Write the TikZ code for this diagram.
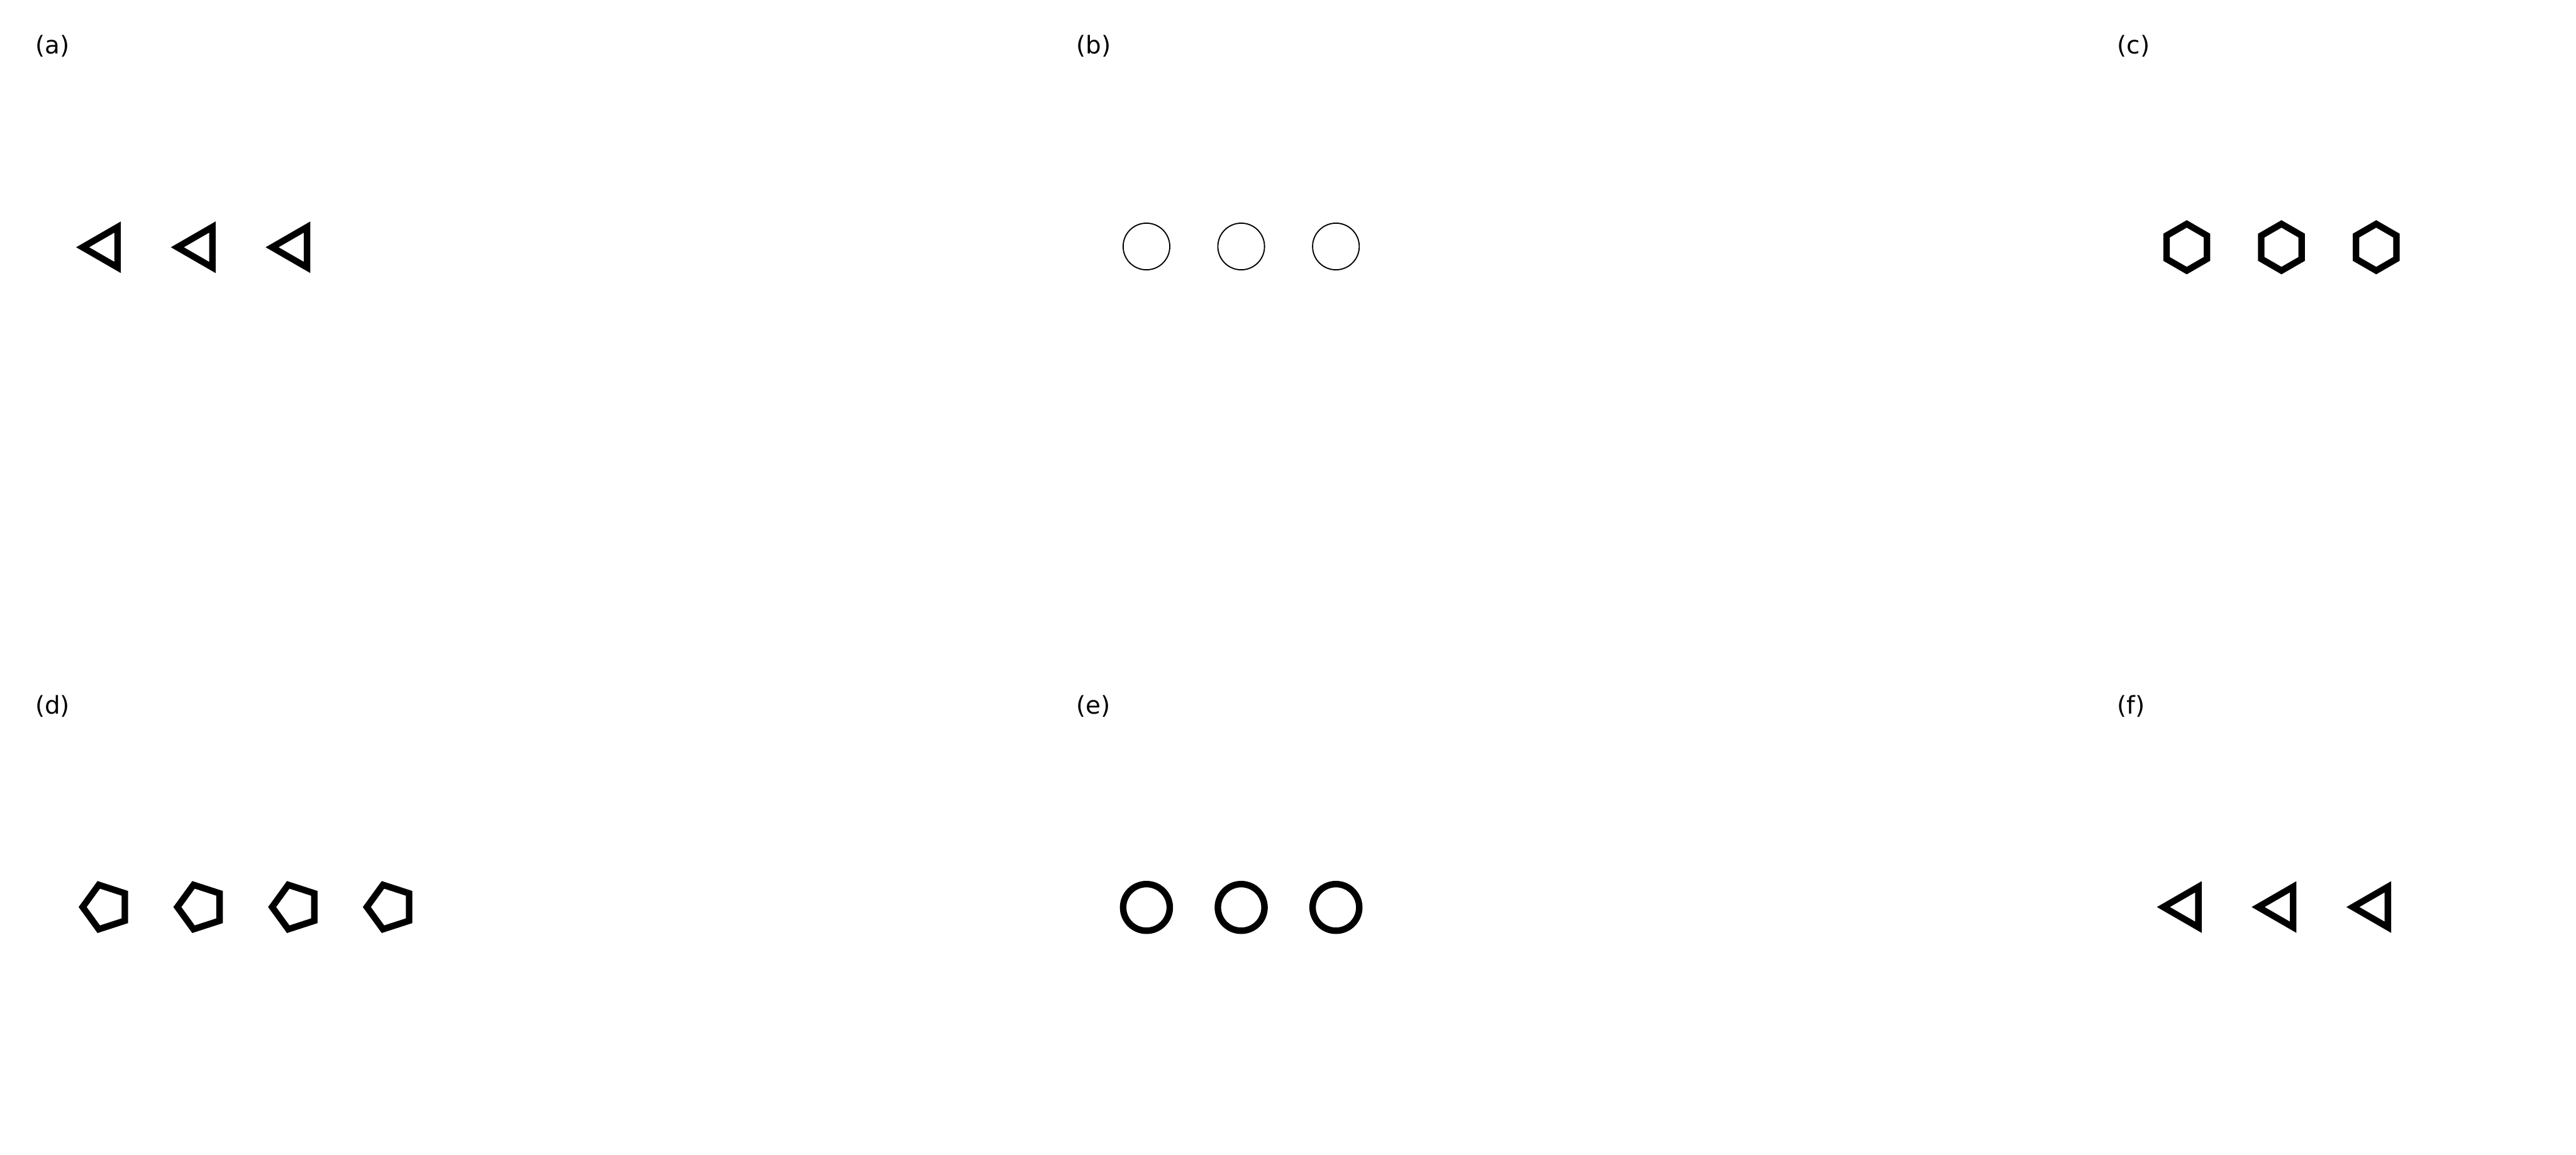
\documentclass[tikz,border=0pt]{standalone}
\usepackage{fontspec}
\setmainfont{DejaVu Sans}
\usetikzlibrary{shapes.geometric, positioning}

\begin{document}
\begin{tikzpicture}[
    node distance=2.436cm, on grid,
    panel/.style={anchor=base west, inner sep=0pt, font=\fontsize{17.9}{21}\selectfont},
    shapebox/.style={draw, inner sep=0pt, outer sep=0pt, minimum size=1.2cm},
    heavy/.style={line width=0.167cm},
    tri/.style={shapebox, heavy, regular polygon, regular polygon sides=3, shape border rotate=90},
    pent/.style={shapebox, heavy, regular polygon, regular polygon sides=5, shape border rotate=90},
    hex/.style={shapebox, heavy, regular polygon, regular polygon sides=6, shape border rotate=90},
    ring/.style={shapebox, circle, line width=0.03cm},
    thickring/.style={shapebox, circle, heavy}
]
\useasboundingbox (0,0) rectangle (66.24,29.70);

% Panel labels
\node (la) [panel] at (0.90,28.313) {(a)};
\node (lb) [panel] at (27.67,28.313) {(b)};
\node (lc) [panel] at (54.44,28.313) {(c)};
\node (ld) [panel] at (0.90,11.333) {(d)};
\node (le) [panel] at (27.67,11.333) {(e)};
\node (lf) [panel] at (54.44,11.333) {(f)};

% (a) triangles
\node (a1) [tri] at (2.725,23.34) {};
\node (a2) [tri, right=of a1] {};
\node (a3) [tri, right=of a2] {};

% (b) thin circles
\node (b1) [ring] at (29.48,23.36) {};
\node (b2) [ring, right=of b1] {};
\node (b3) [ring, right=of b2] {};

% (c) hexagons
\node (c1) [hex] at (56.23,23.34) {};
\node (c2) [hex, right=of c1] {};
\node (c3) [hex, right=of c2] {};

% (d) pentagons
\node (d1) [pent] at (2.725,6.37) {};
\node (d2) [pent, right=of d1] {};
\node (d3) [pent, right=of d2] {};
\node (d4) [pent, right=of d3] {};

% (e) thick circles
\node (e1) [thickring] at (29.48,6.36) {};
\node (e2) [thickring, right=of e1] {};
\node (e3) [thickring, right=of e2] {};

% (f) triangles
\node (f1) [tri] at (56.23,6.37) {};
\node (f2) [tri, right=of f1] {};
\node (f3) [tri, right=of f2] {};

\end{tikzpicture}
\end{document}
